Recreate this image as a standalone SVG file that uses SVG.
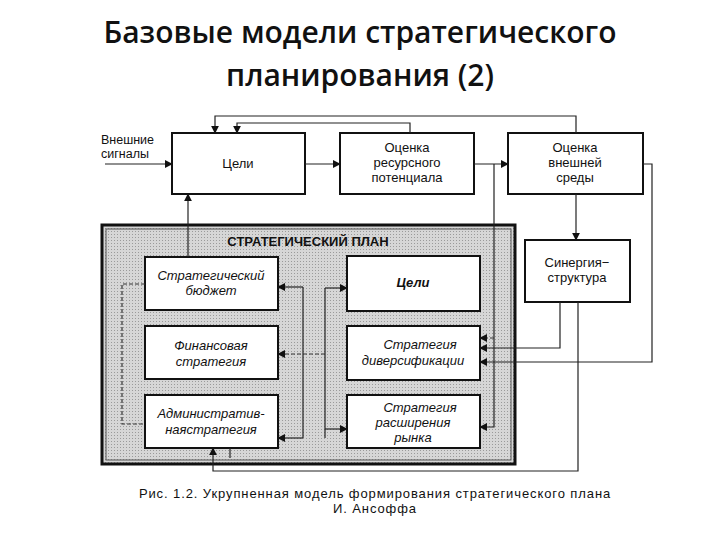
<svg xmlns="http://www.w3.org/2000/svg" width="720" height="540" viewBox="0 0 720 540">
<defs>
<marker id="a" viewBox="0 0 10 10" refX="9" refY="5" markerWidth="8" markerHeight="8" markerUnits="userSpaceOnUse" orient="auto"><path d="M0,0 L10,5 L0,10 z" fill="#111"/></marker>
<pattern id="dots" width="3" height="3" patternUnits="userSpaceOnUse"><rect width="3" height="3" fill="#d6d6d6"/><rect width="1" height="1" fill="#9a9a9a"/></pattern>
</defs>
<style>
text{font-family:"Liberation Sans",Arial,sans-serif;fill:#111}
.t{font-family:"Open Sans","Noto Sans",sans-serif;font-size:30px;font-weight:600;text-anchor:middle}
.n{font-size:13px;text-anchor:middle}
.i{font-size:13px;text-anchor:middle;font-style:italic}
.box{fill:#fff;stroke:#111;stroke-width:2}
.c{fill:none;stroke:#222;stroke-width:1.2}
.d{fill:none;stroke:#333;stroke-width:1.2;stroke-dasharray:4 2}
.cap{font-size:13px;text-anchor:middle;letter-spacing:0.9px}
</style>
<text class="t" x="360" y="43">Базовые модели стратегического</text>
<text class="t" x="360" y="86">планирования (2)</text>

<g id="plan">
<rect x="102" y="225" width="413" height="239" fill="url(#dots)" stroke="#111" stroke-width="3"/>
<rect x="106" y="229" width="405" height="231" fill="none" stroke="#555" stroke-width="1"/>
<text x="308" y="246" font-size="13" font-weight="bold" text-anchor="middle">СТРАТЕГИЧЕСКИЙ  ПЛАН</text>
</g>

<g id="c1"><rect class="box" x="172" y="133" width="133" height="61"/><text class="n" x="238" y="168">Цели</text></g>
<g id="c2"><rect class="box" x="340" y="133" width="134" height="61"/><text class="n" x="407" y="152">Оценка</text><text class="n" x="407" y="167">ресурсного</text><text class="n" x="407" y="182">потенциала</text></g>
<g id="c3"><rect class="box" x="508" y="133" width="135" height="61"/><text class="n" x="575" y="152">Оценка</text><text class="n" x="575" y="167">внешней</text><text class="n" x="575" y="182">среды</text></g>
<g id="sig"><text x="101" y="144" font-size="12.5">Внешние</text><text x="101" y="158" font-size="12.5">сигналы</text></g>
<g id="syn"><rect class="box" x="525" y="240" width="105" height="62"/><text class="n" x="577" y="267">Синергия−</text><text class="n" x="577" y="282">структура</text></g>

<g id="l1"><rect class="box" x="145" y="257" width="133" height="53"/><text class="i" x="211" y="280">Стратегический</text><text class="i" x="211" y="295">бюджет</text></g>
<g id="l2"><rect class="box" x="145" y="326" width="133" height="53"/><text class="i" x="211" y="350">Финансовая</text><text class="i" x="211" y="366">стратегия</text></g>
<g id="l3"><rect class="box" x="145" y="395" width="133" height="53"/><text class="i" x="211" y="418">Административ-</text><text class="i" x="211" y="434">наястратегия</text></g>
<g id="r1"><rect class="box" x="347" y="256" width="133" height="55"/><text x="413" y="287" font-size="13" font-style="italic" font-weight="bold" text-anchor="middle">Цели</text></g>
<g id="r2"><rect class="box" x="347" y="326" width="133" height="54"/><text class="i" x="420" y="349">Стратегия</text><text class="i" x="413" y="365">диверсификации</text></g>
<g id="r3"><rect class="box" x="347" y="395" width="133" height="53"/><text class="i" x="420" y="412">Стратегия</text><text class="i" x="413" y="427">расширения</text><text class="i" x="413" y="442">рынка</text></g>

<g id="connectors">
<path class="c" d="M105,164 H172" marker-end="url(#a)"/>
<path class="c" d="M305,164 H340" marker-end="url(#a)"/>
<path class="c" d="M474,164 H508" marker-end="url(#a)"/>
<path class="c" d="M410,133 V123 H237 V133" marker-end="url(#a)"/>
<path class="c" d="M576,133 V116 H215 V133" marker-end="url(#a)"/>
<path class="c" d="M188,257 V194" marker-end="url(#a)"/>
<path class="c" d="M576,194 V240" marker-end="url(#a)"/>
<path class="c" d="M494,164 V427 H480" marker-end="url(#a)"/>
<path class="d" d="M494,338 H480" marker-end="url(#a)"/>
<path class="c" d="M560,302 V348 H480" marker-end="url(#a)"/>
<path class="c" d="M643,164 H652 V362 H480" marker-end="url(#a)"/>
<path class="c" d="M578,302 V471 H213 V448" marker-end="url(#a)"/>
<path class="c" d="M230,448 V458"/>
<path class="c" d="M303,287 V438"/>
<path class="c" d="M303,287 H278" marker-end="url(#a)"/>
<path class="c" d="M303,438 H278" marker-end="url(#a)"/>
<path class="c" d="M325,288 V438"/>
<path class="c" d="M325,288 H347" marker-end="url(#a)"/>
<path class="c" d="M325,429 H347" marker-end="url(#a)"/>
<path class="d" d="M325,354 H278" marker-end="url(#a)"/>
<path class="d" d="M145,284 H122 V424 H145"/>
</g>
<text class="cap" x="375" y="498">Рис. 1.2. Укрупненная модель формирования стратегического плана</text>
<text class="cap" x="375" y="513">И. Ансоффа</text>
</svg>
